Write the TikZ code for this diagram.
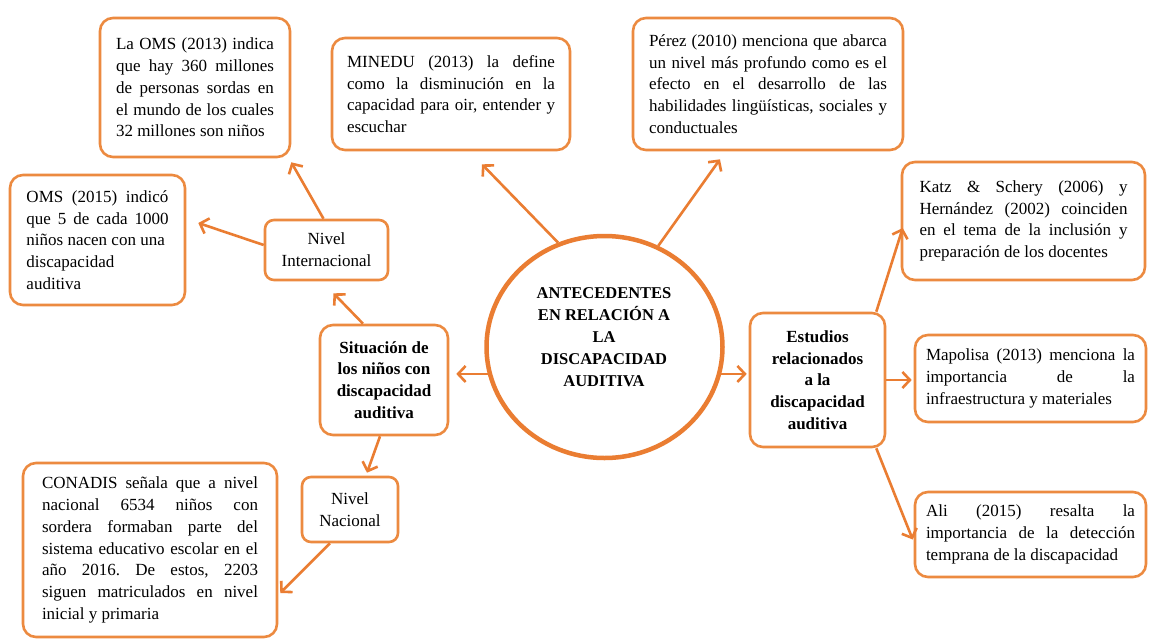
\documentclass[tikz,border=0pt]{standalone}
\usepackage{fontspec}
\setmainfont{Liberation Serif}
\usetikzlibrary{arrows.meta,shapes.geometric,calc}
\definecolor{boxc}{RGB}{236,138,64}
\definecolor{arrc}{RGB}{234,125,50}
\tolerance=10000 \hbadness=10000 \hyphenpenalty=10000 \exhyphenpenalty=10000
\frenchspacing
\newcommand\txtfont{\fontsize{17}{21.7}\selectfont}
\newcommand\bldfont{\bfseries\fontsize{17}{21.7}\selectfont}
\newcommand\ctrfont{\bfseries\fontsize{16.5}{22}\selectfont}
\begin{document}
\begin{tikzpicture}[x=1pt,y=-1pt,
  box/.style={draw=boxc, line width=2.6pt, rounded corners=13pt, fill=white, inner sep=0pt, font=\txtfont},
  jbox/.style={box, align=justify},
  cbox/.style={box, align=center},
  arr/.style={draw=arrc, line width=2.6pt, -{Straight Barb[length=7.5pt,width=16pt]}}]
\useasboundingbox[fill=white] (0,0) rectangle (1149,640);

% left side
\node[jbox, text width=158pt, minimum width=190pt, minimum height=139pt] (oms13) at (195,87.5)
  {La OMS (2013) indica\linebreak que hay 360 millones\linebreak de personas sordas en\linebreak el mundo de los cuales\linebreak 32 millones son niños};
\node[jbox, text width=142pt, minimum width=175pt, minimum height=130pt] (oms15) at (97.5,240)
  {OMS (2015) indicó\linebreak que 5 de cada 1000\linebreak niños nacen con una\\ discapacidad\\ auditiva};
\node[cbox, rounded corners=9pt, minimum width=123pt, minimum height=60pt] (niv) at (326.5,250)
  {Nivel\\ Internacional};
\node[cbox, minimum width=128pt, minimum height=110pt, font=\bldfont] (sit) at (384,380)
  {Situación de\\ los niños con\\ discapacidad\\ auditiva};
\node[cbox, rounded corners=9pt, minimum width=96pt, minimum height=65pt] (nac) at (350,509.5)
  {Nivel\\ Nacional};
\node[jbox, text width=216pt, minimum width=254pt, minimum height=174pt] (con) at (150,550)
  {CONADIS señala que a nivel\linebreak nacional 6534 niños con\linebreak sordera formaban parte del\linebreak sistema educativo escolar en el\linebreak año 2016. De estos, 2203\linebreak siguen matriculados en nivel\linebreak inicial y primaria};

% top
\node[jbox, text width=208pt, minimum width=238pt, minimum height=112pt] (min) at (451,94)
  {MINEDU (2013) la define\linebreak como la disminución en la\linebreak capacidad para oir, entender y\linebreak escuchar};
\node[jbox, text width=238pt, minimum width=270pt, minimum height=132pt] (per) at (768,84)
  {Pérez (2010) menciona que abarca\linebreak un nivel más profundo como es el\linebreak efecto en el desarrollo de las\linebreak habilidades lingüísticas, sociales y\linebreak conductuales};

% centre
\node[draw=arrc, line width=4.5pt, ellipse, minimum width=236pt, minimum height=222pt, inner sep=0pt, fill=white] (ctr) at (604.5,347) {};
\node[font=\ctrfont, align=center] (ctrtxt) at (604,337)
  {ANTECEDENTES\\ EN RELACIÓN A\\ LA\\ DISCAPACIDAD\\ AUDITIVA};

% right side
\node[cbox, minimum width=135pt, minimum height=134pt, font=\bldfont] (est) at (817.5,380)
  {Estudios\\ relacionados\\ a la\\ discapacidad\\ auditiva};
\node[jbox, text width=208pt, minimum width=243pt, minimum height=118pt] (katz) at (1023.5,221)
  {Katz \& Schery (2006) y\linebreak Hernández (2002) coinciden\linebreak en el tema de la inclusión y\linebreak preparación de los docentes};
\node[jbox, text width=209pt, minimum width=231pt, minimum height=87pt] (map) at (1030.5,378.5)
  {Mapolisa (2013) menciona la\linebreak importancia de la\linebreak infraestructura y materiales};
\node[jbox, text width=209pt, minimum width=231pt, minimum height=85pt] (ali) at (1030.5,534.5)
  {Ali (2015) resalta la\linebreak importancia de la detección\linebreak temprana de la discapacidad};

% connectors
\draw[arr] (ctr.114) -- ($(min.south)+(31,13)$);
\draw[arr] (ctr.62) -- ($(per.south)+(-48,8)$);
\draw[arr, shorten >=7pt] (ctr.193) -- (ctr.193 -| sit.east);
\draw[arr, shorten >=2pt] (ctr.-13) -- (ctr.-13 -| est.west);
\draw[arr] ($(sit.north)+(-21,0)$) -- ($(niv.south)+(7,12)$);
\draw[arr] ($(niv.north)+(-3,0)$) -- ($(oms13.south east)+(0,4)$);
\draw[arr] ($(niv.west)+(0,-5)$) -- ($(oms15.east)+(12,-17)$);
\draw[arr] ($(sit.south)+(-4,0)$) -- ($(nac.north)+(17,-3)$);
\draw[arr] ($(nac.south)+(-20,0)$) -- ($(con.east)+(2,43)$);
\draw[arr] ($(est.north east)+(-10,0)$) -- ($(katz.west)+(2,7)$);
\draw[arr, shorten >=2pt] (est.east) -- (est.east -| map.west);
\draw[arr] ($(est.south east)+(-10,0)$) -- ($(ali.west)+(-1,5)$);
\end{tikzpicture}
\end{document}
